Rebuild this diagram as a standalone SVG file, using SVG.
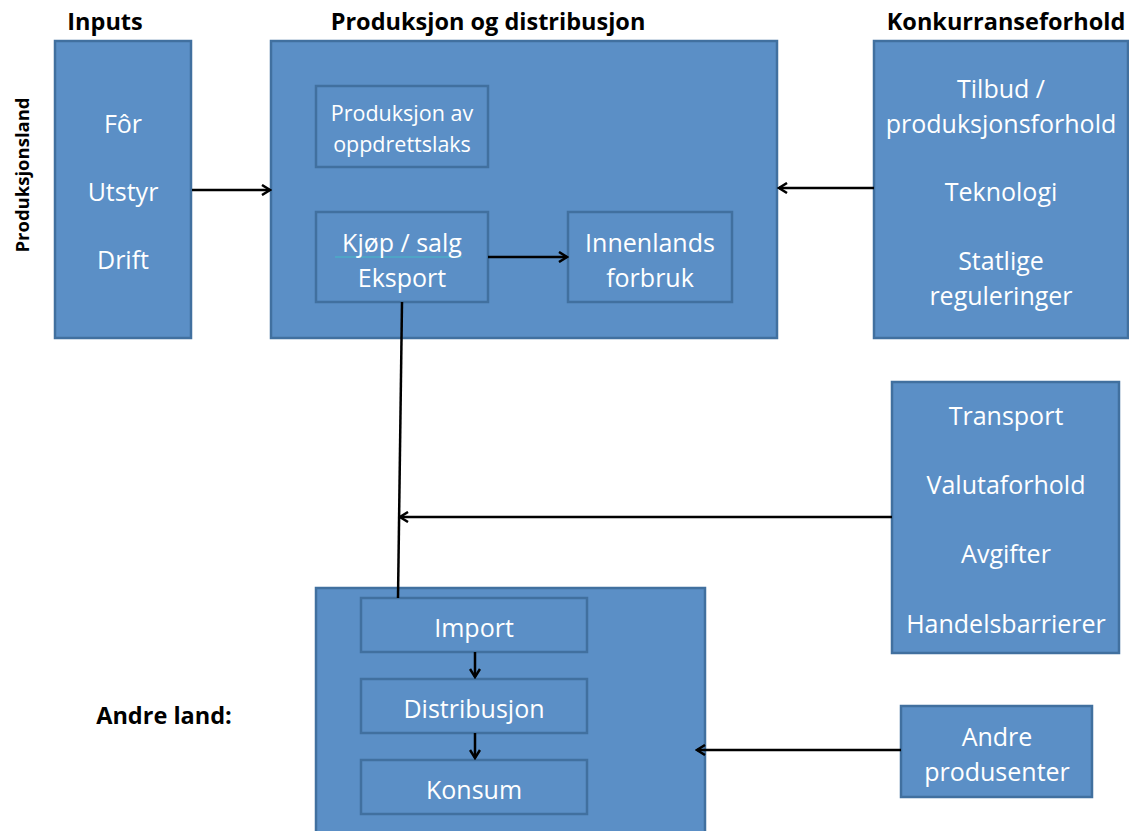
<svg xmlns="http://www.w3.org/2000/svg" width="1129" height="831" viewBox="0 0 1129 831">
<style>
.box{fill:#5B8FC6;stroke:#41709F;stroke-width:2.5}
.t{font-family:"Open Sans","Noto Sans",sans-serif;font-size:25px;fill:#fff;text-anchor:middle}
.s{font-size:21.5px}
.h{font-family:"Open Sans","Noto Sans",sans-serif;font-size:23.5px;font-weight:bold;fill:#000;text-anchor:middle}
.v{font-size:18.5px}
.c{stroke:#000;stroke-width:2.5;fill:none}
</style>
<defs>
<marker id="a" markerWidth="12" markerHeight="12" refX="10" refY="6" orient="auto" markerUnits="userSpaceOnUse">
<path d="M2,1 L10,6 L2,11" fill="none" stroke="#000" stroke-width="2.5"/>
</marker>
</defs>
<rect width="1129" height="831" fill="#fff"/>
<g id="titles">
<text class="h" x="105" y="30">Inputs</text>
<text class="h" x="488" y="30">Produksjon og distribusjon</text>
<text class="h" x="1006" y="30">Konkurranseforhold</text>
<text class="h v" x="23" y="175" transform="rotate(-90 23 175)" dy="6">Produksjonsland</text>
<text class="h" x="164" y="724">Andre land:</text>
</g>
<g id="inputs">
<rect class="box" x="55" y="41" width="136" height="297"/>
<text class="t" x="123" y="133">Fôr</text>
<text class="t" x="123" y="201">Utstyr</text>
<text class="t" x="123" y="269">Drift</text>
</g>
<g id="produksjon">
<rect class="box" x="271" y="41" width="506" height="297"/>
</g>
<g id="produksjon-av">
<rect class="box" x="316" y="86" width="172" height="81"/>
<text class="t s" x="402" y="121">Produksjon av</text>
<text class="t s" x="402" y="152">oppdrettslaks</text>
</g>
<g id="kjop">
<rect class="box" x="316" y="212" width="172" height="90"/>
<line x1="335" y1="257" x2="462" y2="257" stroke="#4BACC6" stroke-width="1.5"/>
<text class="t" x="402" y="252">Kjøp / salg</text>
<text class="t" x="402" y="287">Eksport</text>
</g>
<g id="innenlands">
<rect class="box" x="568" y="212" width="164" height="90"/>
<text class="t" x="650" y="252">Innenlands</text>
<text class="t" x="650" y="287">forbruk</text>
</g>
<g id="konkurranse">
<rect class="box" x="874" y="41" width="254" height="297"/>
<text class="t" x="1001" y="98">Tilbud /</text>
<text class="t" x="1001" y="133">produksjonsforhold</text>
<text class="t" x="1001" y="201">Teknologi</text>
<text class="t" x="1001" y="270">Statlige</text>
<text class="t" x="1001" y="305">reguleringer</text>
</g>
<g id="transport">
<rect class="box" x="892" y="382" width="227" height="271"/>
<text class="t" x="1006" y="425">Transport</text>
<text class="t" x="1006" y="494">Valutaforhold</text>
<text class="t" x="1006" y="563">Avgifter</text>
<text class="t" x="1006" y="633">Handelsbarrierer</text>
</g>
<g id="andre-produsenter">
<rect class="box" x="901" y="706" width="191" height="91"/>
<text class="t" x="997" y="746">Andre</text>
<text class="t" x="997" y="781">produsenter</text>
</g>
<g id="andre-land">
<rect class="box" x="316" y="588" width="389" height="250"/>
</g>
<g id="import">
<rect class="box" x="361" y="598" width="226" height="54"/>
<text class="t" x="474" y="637">Import</text>
</g>
<g id="distribusjon">
<rect class="box" x="361" y="679" width="226" height="54"/>
<text class="t" x="474" y="718">Distribusjon</text>
</g>
<g id="konsum">
<rect class="box" x="361" y="760" width="226" height="54"/>
<text class="t" x="474" y="799">Konsum</text>
</g>
<g id="connectors">
<line class="c" x1="192" y1="190" x2="270" y2="190" marker-end="url(#a)"/>
<line class="c" x1="874" y1="188" x2="779" y2="188" marker-end="url(#a)"/>
<line class="c" x1="488" y1="257" x2="567" y2="257" marker-end="url(#a)"/>
<line class="c" x1="402" y1="302" x2="398" y2="598"/>
<line class="c" x1="892" y1="517" x2="400" y2="517" marker-end="url(#a)"/>
<line class="c" x1="901" y1="750" x2="697" y2="750" marker-end="url(#a)"/>
<line class="c" x1="475" y1="652" x2="475" y2="677" marker-end="url(#a)"/>
<line class="c" x1="475" y1="733" x2="475" y2="758" marker-end="url(#a)"/>
</g>
</svg>
